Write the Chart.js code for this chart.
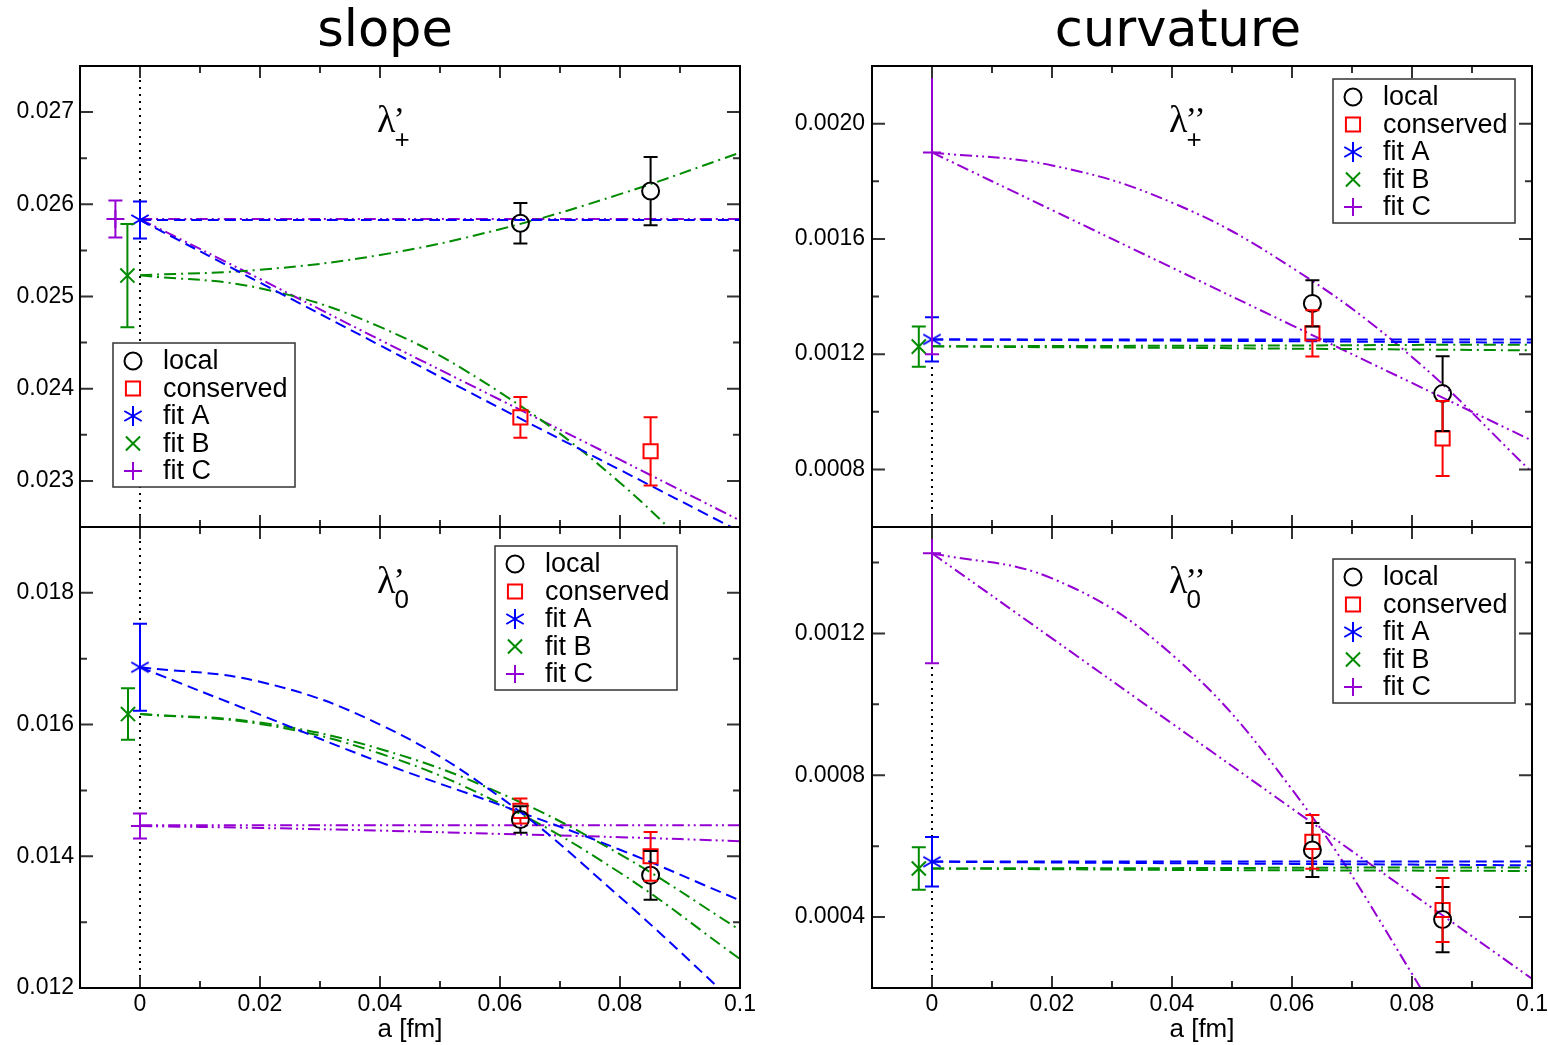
<!DOCTYPE html>
<html>
<head>
<meta charset="utf-8">
<title>slope / curvature</title>
<script src="https://cdn.jsdelivr.net/npm/chart.js@4.4.0/dist/chart.umd.min.js"></script>
<style>
  body { margin: 0; background: #fff; }
  #wrap { position: relative; width: 1548px; height: 1045px; overflow: hidden; background: #fff; }
  #wrap canvas { position: absolute; }
  .head { position: absolute; top: -1px; line-height: 58px; font: 51px 'DejaVu Sans', sans-serif; transform: translateX(-50%); white-space: nowrap; }
</style>
</head>
<body>
<div id="wrap">
  <div class="head" style="left:385px">slope</div>
  <div class="head" style="left:1178px">curvature</div>
  <canvas id="slopePlus" width="770" height="540" style="left:0;top:0"></canvas>
  <canvas id="curvPlus" width="768" height="540" style="left:780px;top:0"></canvas>
  <canvas id="slopeZero" width="770" height="530" style="left:0;top:515px"></canvas>
  <canvas id="curvZero" width="768" height="530" style="left:780px;top:515px"></canvas>
</div>
<script>
// lattice spacings of the two ensembles (fm)
const spacing = [0.0634, 0.0851];
// a values where the fit curves are sampled
const curveA = [0, 0.02, 0.04, 0.06, 0.08, 0.1];

const xTicks = [0, 0.02, 0.04, 0.06, 0.08, 0.1];
const xMinor = [0.01, 0.03, 0.05, 0.07, 0.09];

// ---- lambda'_+ ----
const slopePlusLocal = [0.025794, 0.026144];
const slopePlusLocalErr = [0.00022, 0.00037];
const slopePlusCons = [0.023689, 0.023321];
const slopePlusConsErr = [0.00022, 0.00037];
// continuum results of fit A, B, C (B and C shifted a bit to the left)
const slopePlusFitX = [0, -0.0021, -0.0041];
const slopePlusFitY = [0.02583, 0.025227, 0.02584];
const slopePlusFitErr = [0.0002, 0.00056, 0.0002];
const slopePlusCurveA = [
  [0.02583, 0.02583, 0.02583, 0.02583, 0.02583, 0.02583],
  [0.02583, 0.02515, 0.02447, 0.02379, 0.02312, 0.02245],
];
const slopePlusCurveB = [
  [0.02523, 0.02529, 0.02545, 0.02573, 0.02611, 0.02656],
  [0.02523, 0.02509, 0.02467, 0.02396, 0.02298, 0.02171],
];
const slopePlusCurveC = [
  [0.02584, 0.02584, 0.02584, 0.02584, 0.02584, 0.02584],
  [0.02584, 0.02519, 0.02453, 0.02388, 0.02323, 0.02257],
];
const slopePlusYTicks = [0.023, 0.024, 0.025, 0.026, 0.027];
const slopePlusYMinor = [0.0235, 0.0245, 0.0255, 0.0265];

// ---- lambda'_0 ----
const slopeZeroLocal = [0.014558, 0.013711];
const slopeZeroLocalErr = [0.0002, 0.00037];
const slopeZeroCons = [0.014689, 0.014];
const slopeZeroConsErr = [0.00019, 0.00037];
const slopeZeroFitX = [0, -0.002, 0];
const slopeZeroFitY = [0.01687, 0.01616, 0.01446];
const slopeZeroFitErr = [0.00066, 0.00039, 0.00019];
const slopeZeroCurveA = [
  [0.01687, 0.01665, 0.016, 0.0149, 0.01338, 0.0117],
  [0.01687, 0.01615, 0.01543, 0.01478, 0.0141, 0.01333],
];
const slopeZeroCurveB = [
  [0.01616, 0.01603, 0.01563, 0.01496, 0.01403, 0.01288],
  [0.01616, 0.01601, 0.01556, 0.0148, 0.01375, 0.01244],
];
const slopeZeroCurveC = [
  [0.01447, 0.01447, 0.01447, 0.01447, 0.01447, 0.01447],
  [0.01446, 0.01443, 0.01439, 0.01434, 0.01429, 0.01423],
];
const slopeZeroYTicks = [0.012, 0.014, 0.016, 0.018];
const slopeZeroYMinor = [0.013, 0.015, 0.017];

// ---- lambda''_+ ----
const curvPlusLocal = [0.001376, 0.001063];
const curvPlusLocalErr = [0.00008, 0.00013];
const curvPlusCons = [0.001272, 0.000907];
const curvPlusConsErr = [0.00008, 0.00013];
const curvPlusFitX = [0, -0.0022, 0];
const curvPlusFitY = [0.001251, 0.001226, 0.0019];
const curvPlusFitErr = [0.000077, 0.00007, 0.0007];
const curvPlusCurveA = [
  [0.001251, 0.001251, 0.001251, 0.001251, 0.001251, 0.001251],
  [0.001251, 0.001249, 0.001247, 0.001245, 0.001242, 0.00124],
];
const curvPlusCurveB = [
  [0.001227, 0.001228, 0.001229, 0.00123, 0.001232, 0.001233],
  [0.001227, 0.001224, 0.001222, 0.001219, 0.001216, 0.001213],
];
const curvPlusCurveC = [
  [0.0019, 0.001855, 0.001726, 0.0015, 0.00119, 0.00079],
  [0.0019, 0.0017, 0.0015, 0.0013, 0.0011, 0.0009],
];
const curvPlusYTicks = [0.0008, 0.0012, 0.0016, 0.002];
const curvPlusYMinor = [0.001, 0.0014, 0.0018];

// ---- lambda''_0 ----
const curvZeroLocal = [0.000589, 0.000393];
const curvZeroLocalErr = [0.000076, 0.000092];
const curvZeroCons = [0.000612, 0.00042];
const curvZeroConsErr = [0.000076, 0.00009];
const curvZeroFitX = [0, -0.0022, 0];
const curvZeroFitY = [0.000556, 0.000537, 0.001426];
const curvZeroFitErr = [0.00007, 0.00006, 0.00031];
const curvZeroCurveA = [
  [0.000557, 0.000557, 0.000557, 0.000557, 0.000557, 0.000557],
  [0.000556, 0.000554, 0.000552, 0.00055, 0.000548, 0.000546],
];
const curvZeroCurveB = [
  [0.000537, 0.000538, 0.000538, 0.000539, 0.00054, 0.00054],
  [0.000537, 0.000535, 0.000533, 0.000532, 0.000531, 0.00053],
];
const curvZeroCurveC = [
  [0.001426, 0.001355, 0.00114, 0.00076, 0.00024, -0.00035],
  [0.001426, 0.001186, 0.000946, 0.000706, 0.000466, 0.000226],
];
const curvZeroYTicks = [0.0004, 0.0008, 0.0012];
const curvZeroYMinor = [0.0006, 0.001, 0.0014];

const legendNames = ['local', 'conserved', 'fit A', 'fit B', 'fit C'];

const BLUE = '#0000ff';
const GREEN = '#008b00';
const VIOLET = '#9400d3';
const RED = '#ff0000';

// six-armed asterisk used for fit A
const asterisk = (color) => {
  const c = document.createElement('canvas');
  c.width = 24;
  c.height = 24;
  const g = c.getContext('2d');
  g.strokeStyle = color;
  g.lineWidth = 2;
  g.translate(12, 12);
  [90, 30, -30].forEach((deg) => {
    const r = (deg * Math.PI) / 180;
    g.beginPath();
    g.moveTo(-10 * Math.cos(r), -10 * Math.sin(r));
    g.lineTo(10 * Math.cos(r), 10 * Math.sin(r));
    g.stroke();
  });
  return c;
};

const markers = {
  local: { style: 'circle', radius: 8.5, color: '#000', gap: 8.5 },
  cons: { style: 'rect', radius: 10, color: RED, gap: 7 },
  A: { style: asterisk(BLUE), radius: 10, color: BLUE, gap: 0 },
  B: { style: 'crossRot', radius: 10, color: GREEN, gap: 0 },
  C: { style: 'cross', radius: 9, color: VIOLET, gap: 0 },
};
const legendKeys = ['local', 'cons', 'A', 'B', 'C'];

const curveSet = (vals, color, dash, order) => ({
  data: curveA.map((a, i) => ({ x: a, y: vals[i] })),
  showLine: true,
  pointRadius: 0,
  borderColor: color,
  borderWidth: 2,
  borderDash: dash,
  tension: 0.4,
  order: order,
});

const pointSet = (xs, ys, errs, m) => ({
  data: xs.map((x, i) => ({ x: x, y: ys[i] })),
  errors: errs,
  gap: m.gap,
  showLine: false,
  pointStyle: m.style,
  pointRadius: m.radius,
  pointHoverRadius: m.radius,
  borderColor: m.color,
  backgroundColor: 'rgba(0,0,0,0)',
  borderWidth: 2,
  order: 0,
});

// error bars with caps, clipped to the plot area
const errorBars = {
  id: 'errorBars',
  afterDatasetsDraw(chart) {
    const { ctx, chartArea: ca, scales } = chart;
    ctx.save();
    ctx.beginPath();
    ctx.rect(ca.left, ca.top, ca.width, ca.height);
    ctx.clip();
    ctx.lineWidth = 2;
    chart.data.datasets.forEach((ds) => {
      if (!ds.errors) return;
      ctx.strokeStyle = ds.borderColor;
      ds.data.forEach((p, i) => {
        const px = scales.x.getPixelForValue(p.x);
        const mid = scales.y.getPixelForValue(p.y);
        const top = scales.y.getPixelForValue(p.y + ds.errors[i]);
        const bot = scales.y.getPixelForValue(p.y - ds.errors[i]);
        ctx.beginPath();
        ctx.moveTo(px, top);
        ctx.lineTo(px, mid - ds.gap);
        ctx.moveTo(px, mid + ds.gap);
        ctx.lineTo(px, bot);
        ctx.moveTo(px - 7, top);
        ctx.lineTo(px + 7, top);
        ctx.moveTo(px - 7, bot);
        ctx.lineTo(px + 7, bot);
        ctx.stroke();
      });
    });
    ctx.restore();
  },
};

// box, inward ticks and the dotted a = 0 line
const frame = {
  id: 'frame',
  beforeDatasetsDraw(chart) {
    const { ctx, chartArea: ca, scales } = chart;
    const px = scales.x.getPixelForValue(0);
    ctx.save();
    ctx.setLineDash([2, 5]);
    ctx.lineWidth = 2;
    ctx.strokeStyle = '#000';
    ctx.beginPath();
    ctx.moveTo(px, ca.top);
    ctx.lineTo(px, ca.bottom);
    ctx.stroke();
    ctx.restore();
  },
  afterDraw(chart, args, opts) {
    const { ctx, chartArea: ca, scales } = chart;
    ctx.save();
    ctx.strokeStyle = '#333';
    ctx.lineWidth = 2;
    ctx.beginPath();
    const xTick = (v, len) => {
      const px = scales.x.getPixelForValue(v);
      ctx.moveTo(px, ca.top);
      ctx.lineTo(px, ca.top + len);
      ctx.moveTo(px, ca.bottom);
      ctx.lineTo(px, ca.bottom - len);
    };
    const yTick = (v, len) => {
      const py = scales.y.getPixelForValue(v);
      ctx.moveTo(ca.left, py);
      ctx.lineTo(ca.left + len, py);
      ctx.moveTo(ca.right, py);
      ctx.lineTo(ca.right - len, py);
    };
    xTicks.forEach((v) => xTick(v, 12));
    xMinor.forEach((v) => xTick(v, 7));
    opts.yMajor.forEach((v) => yTick(v, 13));
    opts.yMinor.forEach((v) => yTick(v, 7));
    ctx.stroke();
    ctx.strokeStyle = '#000';
    ctx.strokeRect(ca.left, ca.top, ca.width, ca.height);
    ctx.restore();
  },
};

const drawMarker = (ctx, key, x, y) => {
  const m = markers[key];
  ctx.strokeStyle = m.color;
  ctx.lineWidth = 2;
  ctx.beginPath();
  if (m.style === 'circle') {
    ctx.arc(x, y, m.radius, 0, Math.PI * 2);
  } else if (m.style === 'rect') {
    const h = m.radius * Math.SQRT1_2;
    ctx.rect(x - h, y - h, 2 * h, 2 * h);
  } else if (m.style === 'crossRot') {
    const h = m.radius * Math.SQRT1_2;
    ctx.moveTo(x - h, y - h);
    ctx.lineTo(x + h, y + h);
    ctx.moveTo(x - h, y + h);
    ctx.lineTo(x + h, y - h);
  } else if (m.style === 'cross') {
    ctx.moveTo(x - m.radius, y);
    ctx.lineTo(x + m.radius, y);
    ctx.moveTo(x, y - m.radius);
    ctx.lineTo(x, y + m.radius);
  } else {
    ctx.drawImage(m.style, x - m.style.width / 2, y - m.style.height / 2);
  }
  ctx.stroke();
};

// legend box and the lambda label inside each panel
const panelKey = {
  id: 'panelKey',
  afterDraw(chart, args, opts) {
    const { ctx, chartArea: ca } = chart;
    ctx.save();
    const bx = ca.left + opts.legend[0];
    const by = ca.top + opts.legend[1];
    ctx.fillStyle = '#fff';
    ctx.fillRect(bx, by, 182, 144);
    ctx.strokeStyle = '#333';
    ctx.lineWidth = 1.5;
    ctx.strokeRect(bx, by, 182, 144);
    ctx.font = "27px 'Liberation Sans', Arial, sans-serif";
    ctx.textBaseline = 'middle';
    ctx.fillStyle = '#000';
    legendKeys.forEach((k, i) => {
      const ey = by + 18 + i * 27.5;
      drawMarker(ctx, k, bx + 20, ey);
      ctx.fillText(legendNames[i], bx + 50, ey + 1);
    });

    const lx = ca.left + 297;
    const ly = ca.top + 66;
    ctx.textBaseline = 'alphabetic';
    ctx.font = "38px 'Liberation Serif', 'DejaVu Serif', serif";
    ctx.fillText('λ', lx, ly);
    const w = ctx.measureText('λ').width;
    ctx.font = "34px 'Liberation Serif', 'DejaVu Serif', serif";
    ctx.fillText(opts.prime, lx + w - 2, ly - 2);
    ctx.font = "26px 'Liberation Sans', Arial, sans-serif";
    ctx.fillText(opts.sub, lx + w - 1, ly + opts.subDrop);
    ctx.restore();
  },
};

const tickFont = { family: "'Liberation Sans', Arial, sans-serif", size: 23 };

const makePanel = (p) => {
  const fits = [p.curves[0], p.curves[1], p.curves[2]];
  const datasets = [
    pointSet(spacing, p.local, p.localErr, markers.local),
    pointSet(spacing, p.cons, p.consErr, markers.cons),
    pointSet([p.fitX[0]], [p.fitY[0]], [p.fitErr[0]], markers.A),
    pointSet([p.fitX[1]], [p.fitY[1]], [p.fitErr[1]], markers.B),
    pointSet([p.fitX[2]], [p.fitY[2]], [p.fitErr[2]], markers.C),
  ];
  fits[0].forEach((c) => datasets.push(curveSet(c, BLUE, [11, 6], 1)));
  fits[1].forEach((c) => datasets.push(curveSet(c, GREEN, [12, 5, 2, 5], 2)));
  fits[2].forEach((c) => datasets.push(curveSet(c, VIOLET, [12, 4, 2, 4, 2, 4], 3)));

  return new Chart(document.getElementById(p.canvas), {
    type: 'scatter',
    data: { datasets: datasets },
    plugins: [errorBars, frame, panelKey],
    options: {
      responsive: false,
      animation: false,
      events: [],
      layout: { padding: p.padding },
      plugins: {
        legend: { display: false },
        tooltip: { enabled: false },
        frame: { yMajor: p.yTicks, yMinor: p.yMinor },
        panelKey: { legend: p.legend, prime: p.prime, sub: p.sub, subDrop: p.subDrop },
      },
      scales: {
        x: {
          type: 'linear',
          min: -0.01,
          max: 0.1,
          display: p.showX,
          grid: { display: false, drawTicks: false },
          border: { display: false },
          afterBuildTicks: (s) => {
            s.ticks = xTicks.map((v) => ({ value: v }));
          },
          ticks: {
            font: tickFont,
            color: '#000',
            padding: 3,
            maxRotation: 0,
            autoSkip: false,
            callback: (v) => (v === 0 ? '0' : String(parseFloat(v.toFixed(2)))),
          },
          title: {
            display: true,
            text: 'a [fm]',
            color: '#000',
            font: { family: "'Liberation Sans', Arial, sans-serif", size: 26 },
            padding: 0,
          },
          afterFit: (s) => {
            // fixed axis band; end labels may spill past the plot edges
            s.height = p.showX ? 57 : 0;
            s.paddingLeft = 0;
            s.paddingRight = 0;
          },
        },
        y: {
          type: 'linear',
          min: p.yMin,
          max: p.yMax,
          grid: { display: false, drawTicks: false },
          border: { display: false },
          afterBuildTicks: (s) => {
            s.ticks = p.yTicks.map((v) => ({ value: v }));
          },
          ticks: {
            font: tickFont,
            color: '#000',
            padding: p.yPad,
            callback: (v) => v.toFixed(p.dec),
          },
          afterFit: (s) => {
            s.width = p.yWidth;
            s.paddingTop = 0;
            s.paddingBottom = 0;
          },
        },
      },
    },
  });
};

makePanel({
  canvas: 'slopePlus', yMin: 0.0225, yMax: 0.0275, dec: 3,
  yTicks: slopePlusYTicks, yMinor: slopePlusYMinor,
  local: slopePlusLocal, localErr: slopePlusLocalErr,
  cons: slopePlusCons, consErr: slopePlusConsErr,
  fitX: slopePlusFitX, fitY: slopePlusFitY, fitErr: slopePlusFitErr,
  curves: [slopePlusCurveA, slopePlusCurveB, slopePlusCurveC],
  prime: '’', sub: '+', subDrop: 16,
  legend: [33, 277],
  showX: false, yWidth: 80, yPad: 6,
  padding: { top: 66, right: 30, bottom: 13, left: 0 },
});

makePanel({
  canvas: 'slopeZero', yMin: 0.012, yMax: 0.019, dec: 3,
  yTicks: slopeZeroYTicks, yMinor: slopeZeroYMinor,
  local: slopeZeroLocal, localErr: slopeZeroLocalErr,
  cons: slopeZeroCons, consErr: slopeZeroConsErr,
  fitX: slopeZeroFitX, fitY: slopeZeroFitY, fitErr: slopeZeroFitErr,
  curves: [slopeZeroCurveA, slopeZeroCurveB, slopeZeroCurveC],
  prime: '’', sub: '0', subDrop: 15,
  legend: [415, 19],
  showX: true, yWidth: 80, yPad: 6,
  padding: { top: 2, right: 30, bottom: 0, left: 0 },
});

makePanel({
  canvas: 'curvPlus', yMin: 0.0006, yMax: 0.0022, dec: 4,
  yTicks: curvPlusYTicks, yMinor: curvPlusYMinor,
  local: curvPlusLocal, localErr: curvPlusLocalErr,
  cons: curvPlusCons, consErr: curvPlusConsErr,
  fitX: curvPlusFitX, fitY: curvPlusFitY, fitErr: curvPlusFitErr,
  curves: [curvPlusCurveA, curvPlusCurveB, curvPlusCurveC],
  prime: '’’', sub: '+', subDrop: 16,
  legend: [461, 13],
  showX: false, yWidth: 92, yPad: 7,
  padding: { top: 66, right: 16, bottom: 13, left: 0 },
});

makePanel({
  canvas: 'curvZero', yMin: 0.0002, yMax: 0.0015, dec: 4,
  yTicks: curvZeroYTicks, yMinor: curvZeroYMinor,
  local: curvZeroLocal, localErr: curvZeroLocalErr,
  cons: curvZeroCons, consErr: curvZeroConsErr,
  fitX: curvZeroFitX, fitY: curvZeroFitY, fitErr: curvZeroFitErr,
  curves: [curvZeroCurveA, curvZeroCurveB, curvZeroCurveC],
  prime: '’’', sub: '0', subDrop: 15,
  legend: [461, 32],
  showX: true, yWidth: 92, yPad: 7,
  padding: { top: 2, right: 16, bottom: 0, left: 0 },
});
</script>
</body>
</html>
